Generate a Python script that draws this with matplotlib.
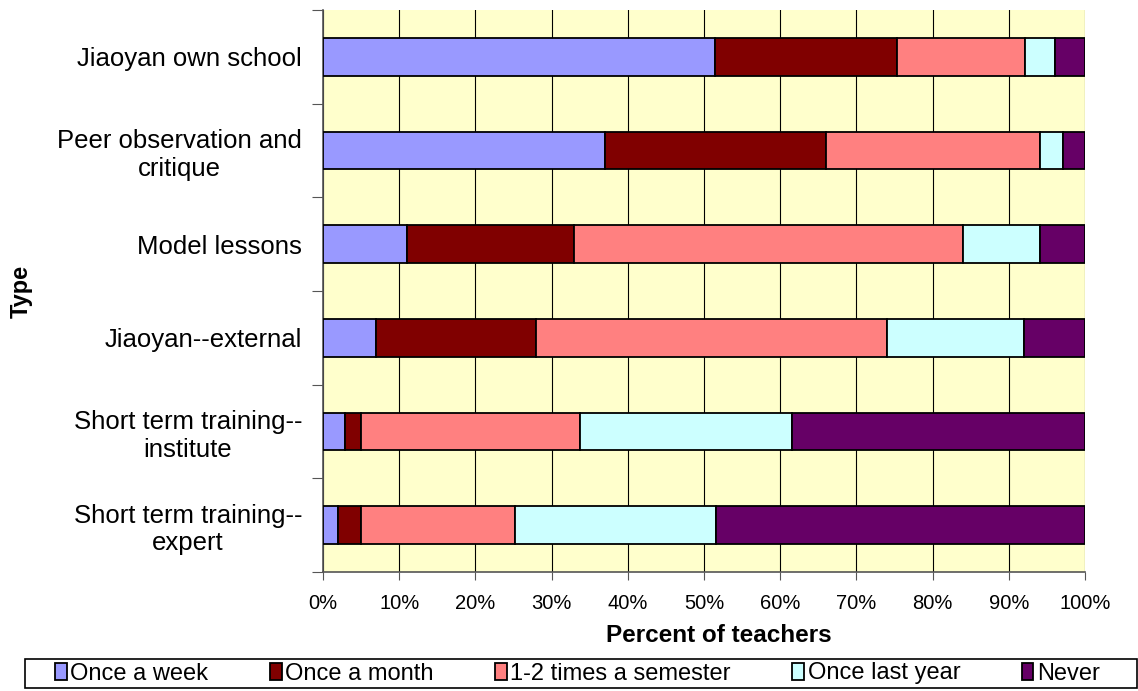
import matplotlib
matplotlib.use("Agg")
import matplotlib.pyplot as plt
from matplotlib.patches import Rectangle
import numpy as np

plt.rcParams['font.family'] = ['Liberation Sans', 'DejaVu Sans']

# categories, top to bottom
types = ["Jiaoyan own school", "Peer observation and\ncritique", "Model lessons",
         "Jiaoyan--external", "Short term training--\ninstitute", "Short term training--\nexpert"]

# percent of teachers for each frequency
once_week = [51.4, 37.0, 11.0, 7.0, 2.9, 2.0]
once_month = [23.9, 29.0, 22.0, 21.0, 2.1, 3.0]
per_semester = [16.8, 28.1, 51.0, 46.0, 28.7, 20.2]
once_last_year = [4.0, 3.0, 10.1, 18.0, 27.8, 26.4]
never = [3.9, 2.9, 5.9, 8.0, 38.5, 48.4]

series_names = ["Once a week", "Once a month", "1-2 times a semester", "Once last year", "Never"]
series = [once_week, once_month, per_semester, once_last_year, never]
colors = ["#9999FF", "#800000", "#FF8080", "#CCFFFF", "#660066"]

fig = plt.figure(figsize=(11.38, 6.91), dpi=100)
ax = fig.add_axes([323/1138, 1 - 572/691, 762/1138, 562/691])
ax.set_facecolor("#FFFFCC")

y = np.arange(len(types)) + 0.5
left = np.zeros(len(types))
handles = []
for name, vals, c in zip(series_names, series, colors):
    vals = np.array(vals)
    b = ax.barh(y, vals, left=left, height=0.4, color=c, edgecolor="black",
                linewidth=1.3, label=name, zorder=3)
    handles.append(b)
    left += vals

ax.set_xlim(0, 100)
ax.set_ylim(len(types), 0)

# vertical grid
ax.set_xticks(np.arange(0, 101, 10))
ax.set_xticklabels([f"{v}%" for v in range(0, 101, 10)], fontsize=14.5)
ax.xaxis.grid(True, color="black", linewidth=0.8, zorder=1)
ax.set_axisbelow(True)
ax.tick_params(axis="x", direction="out", length=6, pad=10, color="#555555")

# category ticks between bars, labels at bar centres
ax.set_yticks(np.arange(0, len(types) + 1))
ax.set_yticklabels([])
ax.set_yticks(y, minor=True)
ax.set_yticklabels(types, minor=True, fontsize=18.5, multialignment="center")
ax.tick_params(axis="y", which="major", direction="out", length=8, color="#555555")
ax.tick_params(axis="y", which="minor", length=0, pad=15)

for s in ["top", "right"]:
    ax.spines[s].set_visible(False)
for s in ["left", "bottom"]:
    ax.spines[s].set_color("#555555")
    ax.spines[s].set_linewidth(1.2)

ax.set_xlabel("Percent of teachers", fontsize=17.5, fontweight="bold")
ax.xaxis.set_label_coords(0.519, -0.093)
ax.set_ylabel("Type", fontsize=17, fontweight="bold")
ax.yaxis.set_label_coords(-0.381, 0.5)

# legend box along the bottom
fig.patches.append(Rectangle((25/1138, 3/691), 1112/1138, 29/691, transform=fig.transFigure,
                             facecolor="white", edgecolor="black", linewidth=1.2))
leg = fig.legend(handles=handles, labels=series_names, loc="center left",
                 bbox_to_anchor=(55/1138, 17.5/691), ncol=5, fontsize=17,
                 frameon=False, handlelength=0.5, handleheight=0.7, handletextpad=0.15,
                 borderaxespad=0, borderpad=0, columnspacing=2.6)

fig.savefig("out.png", dpi=100)
